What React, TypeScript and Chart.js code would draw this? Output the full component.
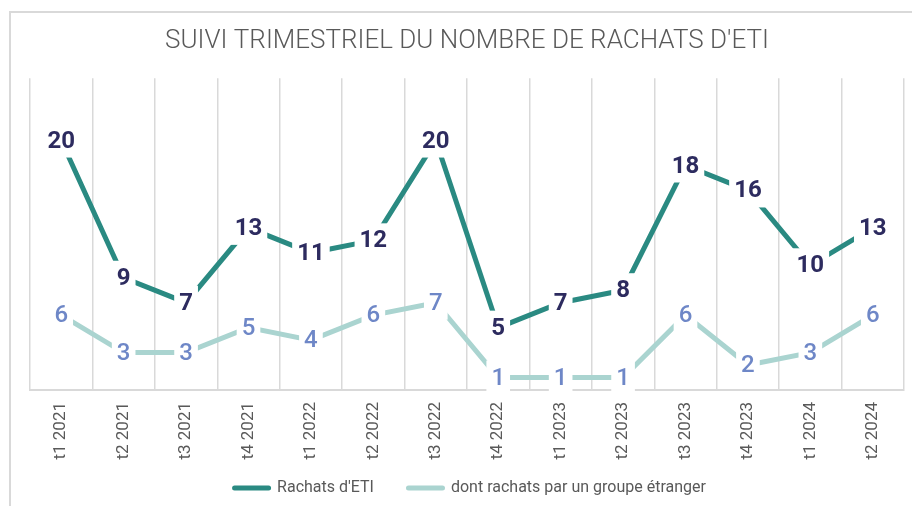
import React, { useEffect, useRef } from "react";
import { Chart, registerables } from "chart.js";

Chart.register(...registerables);

const categories = ["t1 2021", "t2 2021", "t3 2021", "t4 2021", "t1 2022", "t2 2022", "t3 2022", "t4 2022", "t1 2023", "t2 2023", "t3 2023", "t4 2023", "t1 2024", "t2 2024"];
const rachats = [20, 9, 7, 13, 11, 12, 20, 5, 7, 8, 18, 16, 10, 13];
const etranger = [6, 3, 3, 5, 4, 6, 7, 1, 1, 1, 6, 2, 3, 6];
const titleText = "SUIVI TRIMESTRIEL DU NOMBRE DE RACHATS D'ETI";
const seriesNames = ["Rachats d'ETI", "dont rachats par un groupe étranger"];

const lineColors = ["#2A8A82", "#AAD4D0"];
const labelColors = ["#2D2B5F", "#6E87C7"];
const labelWeights = ["700", "500"];

const dataLabelPlugin = {
  id: "dataLabels",
  afterDatasetsDraw(chart: any) {
    const ctx = chart.ctx;
    chart.data.datasets.forEach((ds: any, di: number) => {
      const meta = chart.getDatasetMeta(di);
      ctx.save();
      ctx.font = `${labelWeights[di]} 24px Roboto`;
      ctx.textAlign = "center";
      ctx.textBaseline = "middle";
      meta.data.forEach((pt: any, i: number) => {
        const txt = String(ds.data[i]);
        const w = ctx.measureText(txt).width;
        ctx.fillStyle = "#ffffff";
        ctx.fillRect(pt.x - w / 2 - 5, pt.y - 17, w + 10, 34);
        ctx.fillStyle = labelColors[di];
        ctx.fillText(txt, pt.x, pt.y + 1);
      });
      ctx.restore();
    });
  },
};

const borderPlugin = {
  id: "outerBorder",
  beforeDraw(chart: any) {
    const ctx = chart.ctx;
    ctx.save();
    ctx.fillStyle = "#ffffff";
    ctx.fillRect(0, 0, chart.width, chart.height);
    ctx.strokeStyle = "#d9d9d9";
    ctx.lineWidth = 2;
    ctx.strokeRect(10, 12, chart.width + 40, chart.height + 40);
    ctx.restore();
  },
};

const legendPlugin = {
  id: "customLegend",
  afterDraw(chart: any) {
    const ctx = chart.ctx;
    ctx.save();
    ctx.font = "400 16px Roboto";
    const markerW = 39;
    const gapText = 6;
    const gapItem = 32;
    const widths = seriesNames.map((n) => ctx.measureText(n).width);
    const total = widths.reduce((a, w) => a + markerW + gapText + w, 0) + gapItem * (seriesNames.length - 1);
    let x = 469 - total / 2;
    const y = 488;
    seriesNames.forEach((n, i) => {
      ctx.strokeStyle = lineColors[i];
      ctx.lineWidth = 5;
      ctx.lineCap = "round";
      ctx.beginPath();
      ctx.moveTo(x + 2.5, y);
      ctx.lineTo(x + markerW - 2.5, y);
      ctx.stroke();
      x += markerW + gapText;
      ctx.fillStyle = "#595959";
      ctx.textAlign = "left";
      ctx.textBaseline = "middle";
      ctx.fillText(n, x, y);
      x += widths[i] + gapItem;
    });
    ctx.restore();
  },
};

export default function App() {
  const ref = useRef<HTMLCanvasElement>(null);
  useEffect(() => {
    if (!ref.current) return;
    const chart = new Chart(ref.current, {
      type: "line",
      data: {
        labels: categories,
        datasets: [
          {
            label: seriesNames[0],
            data: rachats,
            borderColor: lineColors[0],
            backgroundColor: lineColors[0],
            borderWidth: 5,
            pointRadius: 0,
            tension: 0,
            borderCapStyle: "round",
          },
          {
            label: seriesNames[1],
            data: etranger,
            borderColor: lineColors[1],
            backgroundColor: lineColors[1],
            borderWidth: 5,
            pointRadius: 0,
            tension: 0,
            borderCapStyle: "round",
          },
        ],
      },
      options: {
        animation: false,
        responsive: false,
        maintainAspectRatio: false,
        layout: { padding: { left: 30, right: 8, top: 0, bottom: 0 } },
        plugins: {
          title: {
            display: true,
            text: titleText,
            color: "#595959",
            font: { family: "Roboto", size: 26, weight: "300", lineHeight: 1.2 },
            padding: { top: 26, bottom: 21 },
          },
          legend: { display: false },
          tooltip: { enabled: false },
        },
        scales: {
          x: {
            offset: true,
            grid: {
              offset: true,
              color: "#d9d9d9",
              lineWidth: 1.5,
              drawTicks: false,
            },
            border: { color: "#d9d9d9", width: 2 },
            ticks: {
              minRotation: 90,
              maxRotation: 90,
              padding: 12,
              color: "#595959",
              font: { family: "Roboto", size: 17 },
            },
            afterFit(scale: any) {
              scale.height = 116;
            },
          },
          y: {
            display: false,
            min: 0,
            max: 25,
          },
        },
      },
      plugins: [borderPlugin, dataLabelPlugin, legendPlugin],
    });
    return () => chart.destroy();
  }, []);
  return (
    <div style={{ position: "absolute", left: 0, top: 0, width: 912, height: 506 }}>
      <canvas ref={ref} width={912} height={506} style={{ display: "block" }} />
    </div>
  );
}
